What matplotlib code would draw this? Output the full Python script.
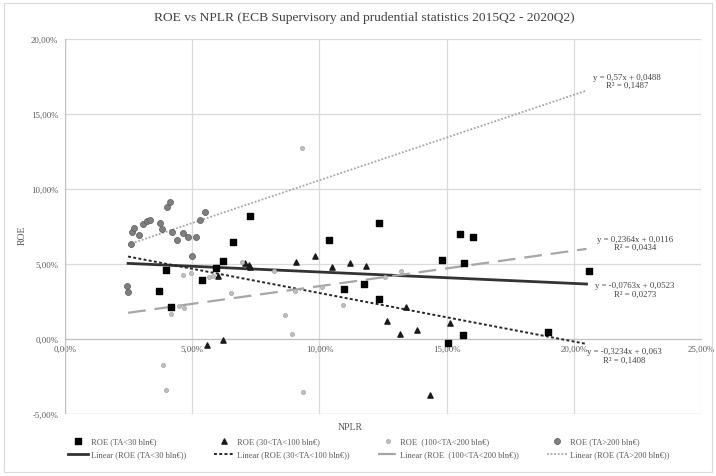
import matplotlib
matplotlib.use("Agg")
import matplotlib.pyplot as plt
import numpy as np
from matplotlib.patches import Rectangle

plt.rcParams['font.family'] = ['Liberation Serif', 'DejaVu Serif']

# ---- data (NPLR %, ROE %) ----
sq_x = [3.70, 3.98, 4.17, 5.39, 5.94, 6.22, 6.61, 7.28, 10.39, 10.98, 11.77,
        12.36, 12.36, 14.80, 15.51, 16.02, 15.67, 15.63, 15.04, 18.98, 20.59]
sq_y = [3.20, 4.60, 2.13, 3.93, 4.73, 5.20, 6.47, 8.20, 6.60, 3.33, 3.67,
        7.73, 2.67, 5.27, 7.00, 6.80, 5.07, 0.27, -0.27, 0.47, 4.53]

tri_x = [5.59, 6.22, 6.02, 7.09, 7.24, 7.28, 9.09, 9.84, 10.51, 11.22, 11.85,
         12.64, 13.15, 13.39, 13.82, 14.33, 15.12]
tri_y = [-0.40, -0.07, 4.20, 5.07, 4.93, 4.80, 5.13, 5.53, 4.80, 5.07, 4.87,
         1.20, 0.33, 2.13, 0.60, -3.73, 1.07]

lc_x = [3.86, 3.98, 4.17, 4.49, 4.69, 4.65, 4.96, 5.67, 5.83, 6.54, 6.97,
        8.23, 8.66, 8.94, 9.06, 9.33, 9.37, 10.12, 10.91, 12.56, 13.19]
lc_y = [-1.73, -3.40, 1.67, 2.20, 2.07, 4.27, 4.40, 4.13, 4.20, 3.07, 5.13,
        4.53, 1.60, 0.33, 3.20, 12.73, -3.53, 3.47, 2.27, 4.13, 4.53]

dc_x = [2.44, 2.48, 2.60, 2.64, 2.72, 2.91, 3.07, 3.23, 3.35, 3.74, 3.82,
        4.02, 4.13, 4.21, 4.41, 4.65, 4.84, 5.16, 5.00, 5.31, 5.51]
dc_y = [3.53, 3.13, 6.33, 7.13, 7.40, 6.93, 7.67, 7.87, 7.93, 7.73, 7.33,
        8.80, 9.13, 7.13, 6.60, 7.07, 6.80, 6.80, 5.53, 7.93, 8.47]

# trendline coefficients (fraction units): y = a*x + b
trend_a = [-0.0763, -0.3234, 0.2364, 0.57]
trend_b = [0.0523, 0.063, 0.0116, 0.0488]
trend_r2 = ["0,0273", "0,1408", "0,0434", "0,1487"]
trend_eq = ["y = -0,0763x + 0,0523", "y = -0,3234x + 0,063",
            "y = 0,2364x + 0,0116", "y = 0,57x + 0,0488"]
trend_range = [2.48, 20.5]

series_names = ["ROE (TA<30 bln€)", "ROE (30<TA<100 bln€)",
                "ROE  (100<TA<200 bln€)", "ROE (TA>200 bln€)"]

x_ticks = [0, 5, 10, 15, 20, 25]
y_ticks = [-5, 0, 5, 10, 15, 20]

fig = plt.figure(figsize=(7.16, 4.77), dpi=100)
ax = fig.add_axes([65/716, 1-415/477, (701-65)/716, (415-40)/477])

# scatter series
h_sq = ax.scatter(sq_x, sq_y, marker='s', s=18, c='#000000', zorder=4)
h_tri = ax.scatter(tri_x, tri_y, marker='^', s=14, c='#1a1a1a', zorder=4)
h_lc = ax.scatter(lc_x, lc_y, marker='o', s=9, c='#bfbfbf', edgecolors='#a6a6a6',
                  linewidths=0.5, zorder=4)
h_dc = ax.scatter(dc_x, dc_y, marker='o', s=19, c='#7f7f7f', edgecolors='#595959',
                  linewidths=0.5, zorder=4)

# trendlines
styles = [dict(color='#333333', lw=2.0, ls='-'),
          dict(color='#262626', lw=1.4, ls=(0, (1.5, 1.2))),
          dict(color='#a6a6a6', lw=1.6, ls=(0, (8, 4))),
          dict(color='#a6a6a6', lw=1.3, ls=(0, (1, 1)))]
xr = np.array(trend_range)
lin_handles = []
for a, b, st in zip(trend_a, trend_b, styles):
    yr = (a * xr / 100 + b) * 100
    l, = ax.plot(xr, yr, zorder=3, **st)
    lin_handles.append(l)

# equation labels
label_pos = [(22.4, 3.3), (22.0, -1.1), (22.4, 6.4), (22.1, 17.2)]
for (lx, ly), eq, r2 in zip(label_pos, trend_eq, trend_r2):
    ax.text(lx, ly, eq + "\nR² = " + r2, ha='center', va='center', fontsize=6.3,
            color='#404040', linespacing=1.1)

ax.set_xlim(0, 25)
ax.set_ylim(-5, 20)
ax.set_xticks(x_ticks)
ax.set_yticks(y_ticks)
ax.set_xticklabels([f"{v:.2f}%".replace('.', ',') for v in x_ticks])
ax.set_yticklabels([f"{v:.2f}%".replace('.', ',') for v in y_ticks])
ax.grid(True, color='#d9d9d9', lw=0.9)
ax.set_axisbelow(True)
for s in ['top', 'right', 'left']:
    ax.spines[s].set_visible(False)
ax.spines['bottom'].set_position(('data', 0))
ax.spines['bottom'].set_color('#bfbfbf')
ax.tick_params(axis='both', length=0, labelsize=6.3, colors='#595959')
ax.tick_params(axis='x', pad=4)
ax.tick_params(axis='y', pad=5)
ax.axhline(-5, color='#d9d9d9', lw=0.9, zorder=0)
ax.axvline(0, color='#bfbfbf', lw=0.9, zorder=1)

fig.text(350/716, 1-428/477, "NPLR", ha='center', va='center', fontsize=7, color='#595959')
fig.text(22/716, 1-235/477, "ROE", ha='center', va='center', rotation=90, fontsize=7,
         color='#595959')
fig.text(364/716, 1-18/477, "ROE vs NPLR (ECB Supervisory and prudential statistics 2015Q2 - 2020Q2)",
         ha='center', va='center', fontsize=9.7, color='#404040')

handles = [h_sq, lin_handles[0], h_tri, lin_handles[1], h_lc, lin_handles[2],
           h_dc, lin_handles[3]]
labels = [series_names[0], "Linear (" + series_names[0] + ")",
          series_names[1], "Linear (" + series_names[1] + ")",
          series_names[2], "Linear (" + series_names[2] + ")",
          series_names[3], "Linear (" + series_names[3] + ")"]
leg = fig.legend(handles, labels, ncol=4, loc='center', bbox_to_anchor=(0.515, 1-449/477),
                 frameon=False, fontsize=6, labelcolor='#595959', columnspacing=3.4,
                 handlelength=2.4, handletextpad=0.3, labelspacing=0.6, borderpad=0)

fig.patches.append(Rectangle((4/716, 4/477), 708/716, 469/477, transform=fig.transFigure,
                             fill=False, edgecolor='#d9d9d9', lw=0.8))

fig.savefig("out.png", dpi=100)
